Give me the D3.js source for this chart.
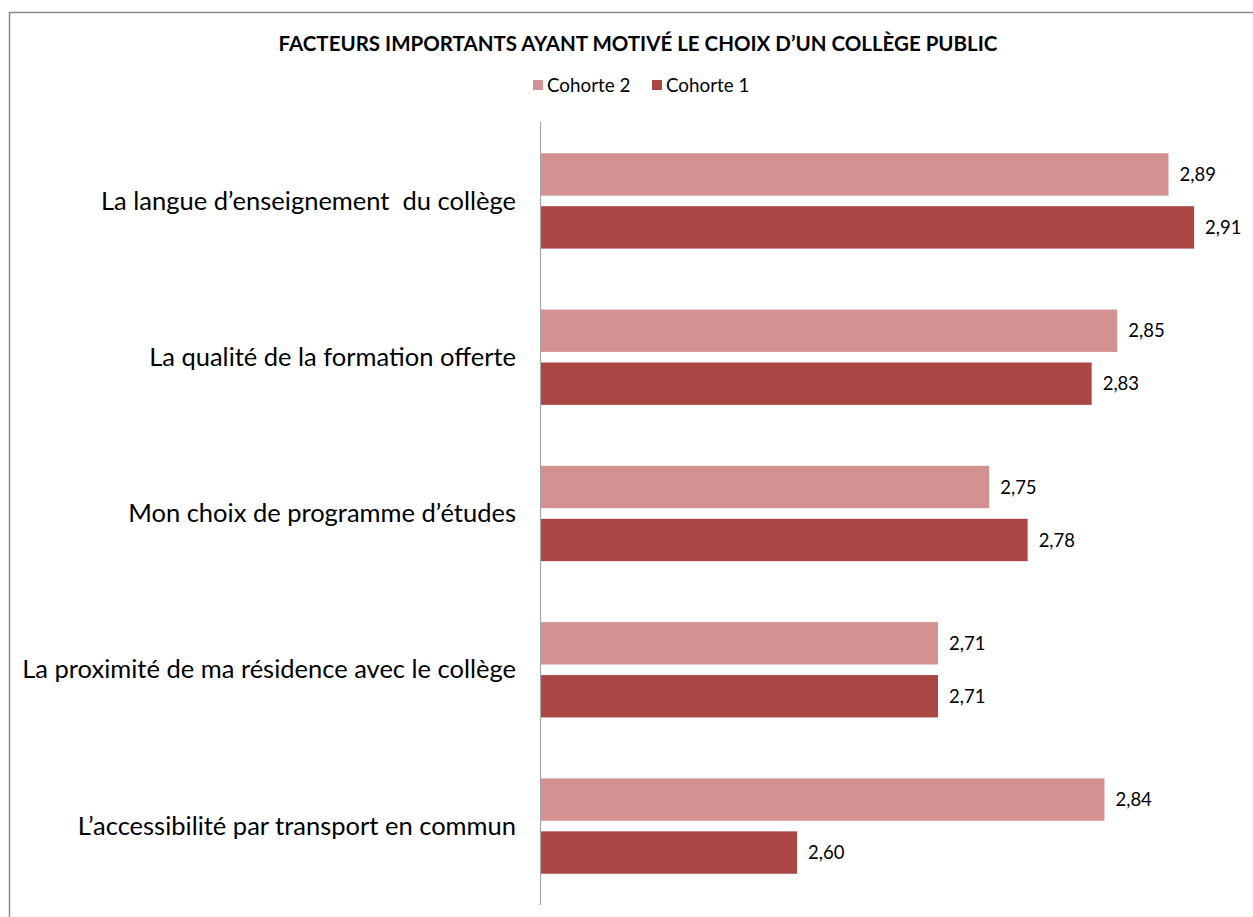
<!DOCTYPE html>
<html>
<head>
<meta charset="utf-8">
<script src="https://cdn.jsdelivr.net/npm/d3@7"></script>
<style>
  html, body { margin: 0; padding: 0; background: #fff; }
  svg { display: block; font-family: Lato, "Open Sans", sans-serif; }
</style>
</head>
<body>
<div id="chart"></div>
<script>
// Categories, top to bottom
const categories = [
  "La langue d\u2019enseignement  du collège",
  "La qualité de la formation offerte",
  "Mon choix de programme d\u2019études",
  "La proximité de ma résidence avec le collège",
  "L\u2019accessibilité par transport en commun"
];
const seriesNames = ["Cohorte 2", "Cohorte 1"];
const cohorte2 = [2.89, 2.85, 2.75, 2.71, 2.84];
const cohorte1 = [2.91, 2.83, 2.78, 2.71, 2.60];
const xDomain = [2.4, 2.9];

const width = 1253, height = 917;
const colors = { "Cohorte 2": "#d39291", "Cohorte 1": "#aa4644" };

const svg = d3.select('#chart').append('svg')
  .attr('width', width)
  .attr('height', height);

// chart frame (runs past the right and bottom edges)
svg.append('rect')
  .attr('x', 9.5).attr('y', 12.5)
  .attr('width', width + 20).attr('height', height + 20)
  .attr('fill', 'none')
  .attr('stroke', '#8c8c8c')
  .attr('stroke-width', 1.5);

// title
svg.append('text')
  .attr('x', 638).attr('y', 51)
  .attr('text-anchor', 'middle')
  .attr('font-weight', 'bold')
  .attr('font-size', 20.5)
  .attr('fill', '#000')
  .text("FACTEURS IMPORTANTS AYANT MOTIVÉ LE CHOIX D\u2019UN COLLÈGE PUBLIC");

// legend
const legendItems = [
  { name: seriesNames[0], x: 533 },
  { name: seriesNames[1], x: 652 }
];
const lg = svg.append('g');
legendItems.forEach(it => {
  lg.append('rect')
    .attr('x', it.x).attr('y', 80)
    .attr('width', 10).attr('height', 10)
    .attr('fill', colors[it.name]);
  lg.append('text')
    .attr('x', it.x + 14).attr('y', 92)
    .attr('font-size', 18.8)
    .attr('fill', '#000')
    .text(it.name);
});

// scales
const plot = { left: 541, top: 122, bottom: 905 };
const x = d3.scaleLinear()
  .domain(xDomain)
  .range([plot.left, plot.left + (xDomain[1] - xDomain[0]) * 1280.6]);

const y = d3.scaleBand()
  .domain(categories)
  .range([plot.top, plot.bottom])
  .paddingInner(0.39)
  .paddingOuter(0.2);

const ySub = d3.scaleBand()
  .domain(seriesNames)
  .range([0, y.bandwidth()])
  .paddingInner(0.2);

const rows = categories.map((c, i) => ({
  category: c,
  values: [
    { series: seriesNames[0], value: cohorte2[i] },
    { series: seriesNames[1], value: cohorte1[i] }
  ]
}));

const groups = svg.append('g')
  .selectAll('g')
  .data(rows)
  .join('g')
  .attr('transform', d => `translate(0,${y(d.category)})`);

groups.selectAll('rect')
  .data(d => d.values)
  .join('rect')
  .attr('x', x(xDomain[0]))
  .attr('y', d => ySub(d.series))
  .attr('width', d => x(d.value) - x(xDomain[0]))
  .attr('height', ySub.bandwidth())
  .attr('fill', d => colors[d.series]);

const fmt = v => d3.format('.2f')(v).replace('.', ',');

groups.selectAll('text.val')
  .data(d => d.values)
  .join('text')
  .attr('class', 'val')
  .attr('x', d => x(d.value) + 11)
  .attr('y', d => ySub(d.series) + ySub.bandwidth() / 2)
  .attr('dy', '0.36em')
  .attr('font-size', 18.5)
  .attr('fill', '#000')
  .text(d => fmt(d.value));

// category labels
svg.append('g')
  .selectAll('text')
  .data(categories)
  .join('text')
  .attr('x', 516)
  .attr('y', d => y(d) + y.bandwidth() / 2)
  .attr('dy', '0.34em')
  .attr('text-anchor', 'end')
  .attr('font-size', 25.5)
  .attr('fill', '#000')
  .style('white-space', 'pre')
  .text(d => d);

// vertical axis line
svg.append('line')
  .attr('x1', plot.left - 0.5).attr('x2', plot.left - 0.5)
  .attr('y1', plot.top).attr('y2', plot.bottom)
  .attr('stroke', '#a6a6a6')
  .attr('stroke-width', 1.2);
</script>
</body>
</html>
